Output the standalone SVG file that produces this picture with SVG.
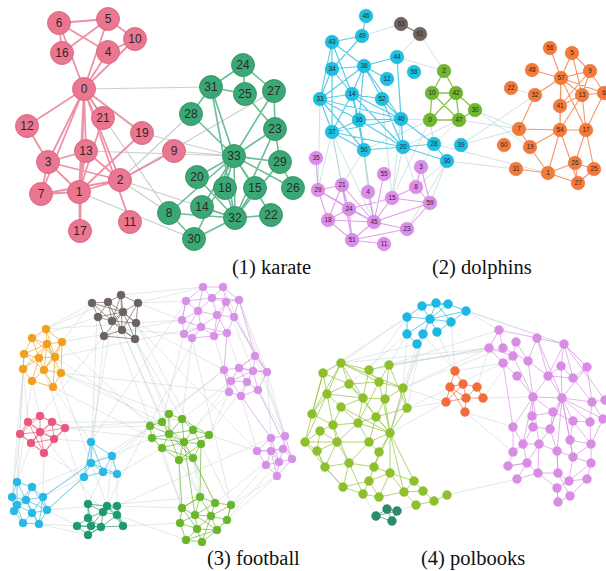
<svg xmlns="http://www.w3.org/2000/svg" width="606" height="571" viewBox="0 0 606 571">
<style>
path{fill:none;stroke-linecap:round}
.lbl{font-family:"Liberation Sans",Arial,sans-serif;text-anchor:middle;fill:#2a2a2a}
.kl{font-size:12px}
.dl{font-size:6.5px}
.cap{font-family:"Liberation Serif","Times New Roman",serif;font-size:20.5px;fill:#111}
.ekp{stroke:#ea7690;stroke-width:1.8;opacity:.8}
.ekg{stroke:#46ad7f;stroke-width:1.6;opacity:.8}
.ekx{stroke:#bfc6c2;stroke-width:1.2;opacity:.85}
.nkp{fill:#ea7690;stroke:#d0627a;stroke-width:.8}
.nkg{fill:#3aa874;stroke:#2e8e60;stroke-width:.8}
.edb{stroke:#30c0e0;stroke-width:1.2;opacity:.8}
.edg{stroke:#74b82a;stroke-width:1.3;opacity:.85}
.edo{stroke:#f47c40;stroke-width:1.1;opacity:.8}
.edp{stroke:#dc8ceb;stroke-width:1.1;opacity:.85}
.edn{stroke:#8a7f78;stroke-width:1.4}
.edx{stroke:#9fc9cf;stroke-width:.8;opacity:.65}
.ndb{fill:#1cc0e3;stroke:#16a6c6;stroke-width:.5}
.ndg{fill:#6db82b;stroke:#5c9e22;stroke-width:.5}
.ndo{fill:#f57a3a;stroke:#dc6a2e;stroke-width:.5}
.ndp{fill:#dc8ceb;stroke:#c67ad6;stroke-width:.5}
.ndn{fill:#6f6560;stroke:#5d544f;stroke-width:.5}
.fe{stroke-width:.9;opacity:.75}
.fx{stroke:#b9c7c7;stroke-width:.65;opacity:.6}
.cB{stroke:#6d625e;fill:#6d625e}
.cO{stroke:#f0a01e;fill:#f0a01e}
.cP{stroke:#e9577e;fill:#e9577e}
.cC{stroke:#27b8e3;fill:#27b8e3}
.cD{stroke:#1d9b6c;fill:#1d9b6c}
.cG{stroke:#6ab62b;fill:#6ab62b}
.cU{stroke:#d690e8;fill:#d690e8}
.cQ{stroke:#1ab8e2;fill:#1ab8e2}
.cR{stroke:#f26c3c;fill:#f26c3c}
.cE{stroke:#8ebf2c;fill:#8ebf2c}
.cK{stroke:#2c8a6a;fill:#2c8a6a}
.cM{stroke:#d88ce4;fill:#d88ce4}
path.cB,path.cO,path.cP,path.cC,path.cD,path.cG,path.cU,path.cQ,path.cR,path.cE,path.cK,path.cM{fill:none}
circle.fn{stroke-width:.4}
</style>
<rect width="606" height="571" fill="#ffffff"/>

<!-- ================= (2) dolphins ================= -->
<g id="dolphins-edges">
<path class="edx" d="M362 36L401 24M397 57L420 34M420 34L444 71M397 57L444 71M401 119L430 120M434 144L459 120M403 147L459 120M434 144L430 120M364 150L430 120M475 110L519 129M475 110L530 147M459 120L519 129M461 145L535 95M461 145L519 129M447 161L516 169M434 144L548 173M447 161L430 203M447 161L416 187M434 144L421 167M403 147L392 198M403 147L416 187M364 150L368 192M364 150L374 222M332 132L318 190M332 132L342 185M332 132L352 240M332 132L374 222M320 99L318 190M359 120L374 222M401 119L392 198M364 150L342 185M447 161L407 229M382 99L392 198M430 120L392 198M511 88L535 95"/>
<path class="edb" d="M366 16L362 36M362 36L332 42M332 42L332 69M332 42L364 66M332 42L352 94M332 42L320 99M362 36L332 69M332 69L364 66M332 69L320 99M332 69L352 94M332 69L332 132M364 66L397 57M364 66L352 94M364 66L382 99M364 66L359 120M364 66L320 99M364 66L401 119M397 57L401 119M397 57L403 147M387 79L364 66M352 94L320 99M352 94L359 120M352 94L382 99M352 94L401 119M352 94L332 132M352 94L403 147M352 94L364 150M320 99L332 132M320 99L359 120M320 99L364 150M320 99L401 119M359 120L332 132M359 120L401 119M359 120L364 150M359 120L403 147M332 132L364 150M332 132L401 119M332 132L403 147M382 99L401 119M382 99L403 147M401 119L403 147M364 150L403 147M403 147L434 144M403 147L447 161M434 144L447 161M401 119L434 144"/>
<path class="edg" d="M444 71L432 93M444 71L456 93M432 93L456 93M432 93L430 120M432 93L459 120M456 93L459 120M456 93L475 110M456 93L430 120M430 120L459 120M459 120L475 110"/>
<path class="edn" d="M401 24L420 34"/>
<path class="edo" d="M550 48L561 78M572 53L590 71M572 53L561 78M572 53L582 95M590 71L561 78M590 71L582 95M590 71L604 93M561 78L582 95M561 78L560 106M561 78L535 95M561 78L560 130M561 78L604 93M561 78L586 130M582 95L604 93M582 95L560 106M582 95L586 130M582 95L560 130M560 106L560 130M560 106L590 71M535 95L519 129M519 129L560 130M519 129L530 147M530 147L560 130M530 147L548 173M560 130L548 173M560 130L586 130M560 130L578 183M586 130L575 163M586 130L594 169M586 130L604 93M575 163L594 169M575 163L578 183M594 169L578 183M548 173L578 183M548 173L516 169M548 173L575 163M532 70L561 78"/>
<path class="edp" d="M316 158L318 190M318 190L342 185M318 190L349 209M318 190L328 220M318 190L374 222M342 185L349 209M342 185L328 220M342 185L352 240M342 185L374 222M349 209L328 220M349 209L374 222M349 209L352 240M349 209L392 198M328 220L374 222M328 220L352 240M374 222L352 240M374 222L392 198M374 222L368 192M374 222L407 229M374 222L430 203M374 222L384 174M392 198L416 187M392 198L430 203M416 187L430 203M416 187L421 167M421 167L430 203M430 203L407 229M352 240L384 244M352 240L407 229"/>
</g>
<g id="dolphins-nodes">
<g id="d46"><circle class="ndb" cx="366" cy="16" r="6.8"/><text class="lbl dl" x="366" y="18.3">46</text></g>
<g id="d53"><circle class="ndn" cx="401" cy="24" r="6.8"/><text class="lbl dl" x="401" y="26.3">53</text></g>
<g id="d61"><circle class="ndn" cx="420" cy="34" r="6.8"/><text class="lbl dl" x="420" y="36.3">61</text></g>
<g id="d49"><circle class="ndb" cx="362" cy="36" r="6.8"/><text class="lbl dl" x="362" y="38.3">49</text></g>
<g id="d43"><circle class="ndb" cx="332" cy="42" r="6.8"/><text class="lbl dl" x="332" y="44.3">43</text></g>
<g id="d44"><circle class="ndb" cx="397" cy="57" r="6.8"/><text class="lbl dl" x="397" y="59.3">44</text></g>
<g id="d38"><circle class="ndb" cx="364" cy="66" r="6.8"/><text class="lbl dl" x="364" y="68.3">38</text></g>
<g id="d34"><circle class="ndb" cx="332" cy="69" r="6.8"/><text class="lbl dl" x="332" y="71.3">34</text></g>
<g id="d12"><circle class="ndb" cx="387" cy="79" r="6.8"/><text class="lbl dl" x="387" y="81.3">12</text></g>
<g id="d58"><circle class="ndb" cx="414" cy="72" r="6.8"/><text class="lbl dl" x="414" y="74.3">58</text></g>
<g id="d2"><circle class="ndg" cx="444" cy="71" r="6.8"/><text class="lbl dl" x="444" y="73.3">2</text></g>
<g id="d14"><circle class="ndb" cx="352" cy="94" r="6.8"/><text class="lbl dl" x="352" y="96.3">14</text></g>
<g id="d33"><circle class="ndb" cx="320" cy="99" r="6.8"/><text class="lbl dl" x="320" y="101.3">33</text></g>
<g id="d52"><circle class="ndb" cx="382" cy="99" r="6.8"/><text class="lbl dl" x="382" y="101.3">52</text></g>
<g id="d10"><circle class="ndg" cx="432" cy="93" r="6.8"/><text class="lbl dl" x="432" y="95.3">10</text></g>
<g id="d42"><circle class="ndg" cx="456" cy="93" r="6.8"/><text class="lbl dl" x="456" y="95.3">42</text></g>
<g id="d30"><circle class="ndg" cx="475" cy="110" r="6.8"/><text class="lbl dl" x="475" y="112.3">30</text></g>
<g id="d16"><circle class="ndb" cx="359" cy="120" r="6.8"/><text class="lbl dl" x="359" y="122.3">16</text></g>
<g id="d40"><circle class="ndb" cx="401" cy="119" r="6.8"/><text class="lbl dl" x="401" y="121.3">40</text></g>
<g id="d0"><circle class="ndg" cx="430" cy="120" r="6.8"/><text class="lbl dl" x="430" y="122.3">0</text></g>
<g id="d47"><circle class="ndg" cx="459" cy="120" r="6.8"/><text class="lbl dl" x="459" y="122.3">47</text></g>
<g id="d37"><circle class="ndb" cx="332" cy="132" r="6.8"/><text class="lbl dl" x="332" y="134.3">37</text></g>
<g id="d50"><circle class="ndb" cx="364" cy="150" r="6.8"/><text class="lbl dl" x="364" y="152.3">50</text></g>
<g id="d20"><circle class="ndb" cx="403" cy="147" r="6.8"/><text class="lbl dl" x="403" y="149.3">20</text></g>
<g id="d28"><circle class="ndb" cx="434" cy="144" r="6.8"/><text class="lbl dl" x="434" y="146.3">28</text></g>
<g id="d39"><circle class="ndb" cx="461" cy="145" r="6.8"/><text class="lbl dl" x="461" y="147.3">39</text></g>
<g id="d36"><circle class="ndb" cx="447" cy="161" r="6.8"/><text class="lbl dl" x="447" y="163.3">36</text></g>
<g id="d35"><circle class="ndp" cx="316" cy="158" r="6.8"/><text class="lbl dl" x="316" y="160.3">35</text></g>
<g id="d3"><circle class="ndp" cx="421" cy="167" r="6.8"/><text class="lbl dl" x="421" y="169.3">3</text></g>
<g id="d55"><circle class="ndp" cx="384" cy="174" r="6.8"/><text class="lbl dl" x="384" y="176.3">55</text></g>
<g id="d21"><circle class="ndp" cx="342" cy="185" r="6.8"/><text class="lbl dl" x="342" y="187.3">21</text></g>
<g id="d29"><circle class="ndp" cx="318" cy="190" r="6.8"/><text class="lbl dl" x="318" y="192.3">29</text></g>
<g id="d8"><circle class="ndp" cx="416" cy="187" r="6.8"/><text class="lbl dl" x="416" y="189.3">8</text></g>
<g id="d4"><circle class="ndp" cx="368" cy="192" r="6.8"/><text class="lbl dl" x="368" y="194.3">4</text></g>
<g id="d15"><circle class="ndp" cx="392" cy="198" r="6.8"/><text class="lbl dl" x="392" y="200.3">15</text></g>
<g id="d59"><circle class="ndp" cx="430" cy="203" r="6.8"/><text class="lbl dl" x="430" y="205.3">59</text></g>
<g id="d24"><circle class="ndp" cx="349" cy="209" r="6.8"/><text class="lbl dl" x="349" y="211.3">24</text></g>
<g id="d18"><circle class="ndp" cx="328" cy="220" r="6.8"/><text class="lbl dl" x="328" y="222.3">18</text></g>
<g id="d45"><circle class="ndp" cx="374" cy="222" r="6.8"/><text class="lbl dl" x="374" y="224.3">45</text></g>
<g id="d23"><circle class="ndp" cx="407" cy="229" r="6.8"/><text class="lbl dl" x="407" y="231.3">23</text></g>
<g id="d51"><circle class="ndp" cx="352" cy="240" r="6.8"/><text class="lbl dl" x="352" y="242.3">51</text></g>
<g id="d11"><circle class="ndp" cx="384" cy="244" r="6.8"/><text class="lbl dl" x="384" y="246.3">11</text></g>
<g id="d56"><circle class="ndo" cx="550" cy="48" r="6.8"/><text class="lbl dl" x="550" y="50.3">56</text></g>
<g id="d5"><circle class="ndo" cx="572" cy="53" r="6.8"/><text class="lbl dl" x="572" y="55.3">5</text></g>
<g id="d48"><circle class="ndo" cx="532" cy="70" r="6.8"/><text class="lbl dl" x="532" y="72.3">48</text></g>
<g id="d9"><circle class="ndo" cx="590" cy="71" r="6.8"/><text class="lbl dl" x="590" y="73.3">9</text></g>
<g id="d57"><circle class="ndo" cx="561" cy="78" r="6.8"/><text class="lbl dl" x="561" y="80.3">57</text></g>
<g id="d22"><circle class="ndo" cx="511" cy="88" r="6.8"/><text class="lbl dl" x="511" y="90.3">22</text></g>
<g id="d32"><circle class="ndo" cx="535" cy="95" r="6.8"/><text class="lbl dl" x="535" y="97.3">32</text></g>
<g id="d13"><circle class="ndo" cx="582" cy="95" r="6.8"/><text class="lbl dl" x="582" y="97.3">13</text></g>
<g id="d6"><circle class="ndo" cx="604" cy="93" r="6.8"/><text class="lbl dl" x="604" y="95.3">6</text></g>
<g id="d41"><circle class="ndo" cx="560" cy="106" r="6.8"/><text class="lbl dl" x="560" y="108.3">41</text></g>
<g id="d7"><circle class="ndo" cx="519" cy="129" r="6.8"/><text class="lbl dl" x="519" y="131.3">7</text></g>
<g id="d54"><circle class="ndo" cx="560" cy="130" r="6.8"/><text class="lbl dl" x="560" y="132.3">54</text></g>
<g id="d17"><circle class="ndo" cx="586" cy="130" r="6.8"/><text class="lbl dl" x="586" y="132.3">17</text></g>
<g id="d60"><circle class="ndo" cx="504" cy="145" r="6.8"/><text class="lbl dl" x="504" y="147.3">60</text></g>
<g id="d19"><circle class="ndo" cx="530" cy="147" r="6.8"/><text class="lbl dl" x="530" y="149.3">19</text></g>
<g id="d26"><circle class="ndo" cx="575" cy="163" r="6.8"/><text class="lbl dl" x="575" y="165.3">26</text></g>
<g id="d25"><circle class="ndo" cx="594" cy="169" r="6.8"/><text class="lbl dl" x="594" y="171.3">25</text></g>
<g id="d31"><circle class="ndo" cx="516" cy="169" r="6.8"/><text class="lbl dl" x="516" y="171.3">31</text></g>
<g id="d1"><circle class="ndo" cx="548" cy="173" r="6.8"/><text class="lbl dl" x="548" y="175.3">1</text></g>
<g id="d27"><circle class="ndo" cx="578" cy="183" r="6.8"/><text class="lbl dl" x="578" y="185.3">27</text></g>
</g>

<!-- ================= (1) karate ================= -->
<g id="karate-edges">
<path class="ekx" d="M84 89L169 213M84 89L211 87M79 192L194 239M120 180L169 213M120 180L274 91M120 180L191 114M120 180L235 218M174 151L234 156M86 151L234 156M142 133L234 156"/>
<path class="ekp" d="M84 89L79 192M84 89L120 180M84 89L48 162M84 89L108 52M84 89L108 19M84 89L59 23M84 89L41 194M84 89L135 39M84 89L130 222M84 89L27 126M84 89L86 151M84 89L80 231M84 89L142 133M84 89L103 118M79 192L120 180M79 192L48 162M79 192L41 194M79 192L86 151M79 192L80 231M79 192L142 133M79 192L103 118M120 180L48 162M120 180L41 194M120 180L174 151M120 180L86 151M48 162L41 194M48 162L27 126M48 162L86 151M108 52L59 23M108 52L135 39M108 19L59 23M108 19L135 39M108 19L62 53M59 23L62 53"/>
<path class="ekg" d="M169 213L194 239M169 213L235 218M169 213L234 156M202 207L235 218M202 207L234 156M255 188L235 218M255 188L234 156M225 188L235 218M225 188L234 156M197 177L235 218M197 177L234 156M271 215L235 218M271 215L234 156M275 129L245 94M275 129L274 91M275 129L280 162M275 129L235 218M275 129L234 156M243 65L245 94M243 65L274 91M243 65L211 87M245 94L211 87M293 188L280 162M293 188L234 156M274 91L234 156M191 114L211 87M191 114L234 156M280 162L235 218M280 162L234 156M194 239L235 218M194 239L234 156M211 87L235 218M211 87L234 156M235 218L234 156"/>
</g>
<g id="karate-nodes">
<g id="k0"><circle class="nkp" cx="84" cy="89" r="11.5"/><text class="lbl kl" x="84" y="93.2">0</text></g>
<g id="k1"><circle class="nkp" cx="79" cy="192" r="11.5"/><text class="lbl kl" x="79" y="196.2">1</text></g>
<g id="k2"><circle class="nkp" cx="120" cy="180" r="11.5"/><text class="lbl kl" x="120" y="184.2">2</text></g>
<g id="k3"><circle class="nkp" cx="48" cy="162" r="11.5"/><text class="lbl kl" x="48" y="166.2">3</text></g>
<g id="k4"><circle class="nkp" cx="108" cy="52" r="11.5"/><text class="lbl kl" x="108" y="56.2">4</text></g>
<g id="k5"><circle class="nkp" cx="108" cy="19" r="11.5"/><text class="lbl kl" x="108" y="23.2">5</text></g>
<g id="k6"><circle class="nkp" cx="59" cy="23" r="11.5"/><text class="lbl kl" x="59" y="27.2">6</text></g>
<g id="k7"><circle class="nkp" cx="41" cy="194" r="11.5"/><text class="lbl kl" x="41" y="198.2">7</text></g>
<g id="k8"><circle class="nkg" cx="169" cy="213" r="11.5"/><text class="lbl kl" x="169" y="217.2">8</text></g>
<g id="k9"><circle class="nkp" cx="174" cy="151" r="11.5"/><text class="lbl kl" x="174" y="155.2">9</text></g>
<g id="k10"><circle class="nkp" cx="135" cy="39" r="11.5"/><text class="lbl kl" x="135" y="43.2">10</text></g>
<g id="k11"><circle class="nkp" cx="130" cy="222" r="11.5"/><text class="lbl kl" x="130" y="226.2">11</text></g>
<g id="k12"><circle class="nkp" cx="27" cy="126" r="11.5"/><text class="lbl kl" x="27" y="130.2">12</text></g>
<g id="k13"><circle class="nkp" cx="86" cy="151" r="11.5"/><text class="lbl kl" x="86" y="155.2">13</text></g>
<g id="k14"><circle class="nkg" cx="202" cy="207" r="11.5"/><text class="lbl kl" x="202" y="211.2">14</text></g>
<g id="k15"><circle class="nkg" cx="255" cy="188" r="11.5"/><text class="lbl kl" x="255" y="192.2">15</text></g>
<g id="k16"><circle class="nkp" cx="62" cy="53" r="11.5"/><text class="lbl kl" x="62" y="57.2">16</text></g>
<g id="k17"><circle class="nkp" cx="80" cy="231" r="11.5"/><text class="lbl kl" x="80" y="235.2">17</text></g>
<g id="k18"><circle class="nkg" cx="225" cy="188" r="11.5"/><text class="lbl kl" x="225" y="192.2">18</text></g>
<g id="k19"><circle class="nkp" cx="142" cy="133" r="11.5"/><text class="lbl kl" x="142" y="137.2">19</text></g>
<g id="k20"><circle class="nkg" cx="197" cy="177" r="11.5"/><text class="lbl kl" x="197" y="181.2">20</text></g>
<g id="k21"><circle class="nkp" cx="103" cy="118" r="11.5"/><text class="lbl kl" x="103" y="122.2">21</text></g>
<g id="k22"><circle class="nkg" cx="271" cy="215" r="11.5"/><text class="lbl kl" x="271" y="219.2">22</text></g>
<g id="k23"><circle class="nkg" cx="275" cy="129" r="11.5"/><text class="lbl kl" x="275" y="133.2">23</text></g>
<g id="k24"><circle class="nkg" cx="243" cy="65" r="11.5"/><text class="lbl kl" x="243" y="69.2">24</text></g>
<g id="k25"><circle class="nkg" cx="245" cy="94" r="11.5"/><text class="lbl kl" x="245" y="98.2">25</text></g>
<g id="k26"><circle class="nkg" cx="293" cy="188" r="11.5"/><text class="lbl kl" x="293" y="192.2">26</text></g>
<g id="k27"><circle class="nkg" cx="274" cy="91" r="11.5"/><text class="lbl kl" x="274" y="95.2">27</text></g>
<g id="k28"><circle class="nkg" cx="191" cy="114" r="11.5"/><text class="lbl kl" x="191" y="118.2">28</text></g>
<g id="k29"><circle class="nkg" cx="280" cy="162" r="11.5"/><text class="lbl kl" x="280" y="166.2">29</text></g>
<g id="k30"><circle class="nkg" cx="194" cy="239" r="11.5"/><text class="lbl kl" x="194" y="243.2">30</text></g>
<g id="k31"><circle class="nkg" cx="211" cy="87" r="11.5"/><text class="lbl kl" x="211" y="91.2">31</text></g>
<g id="k32"><circle class="nkg" cx="235" cy="218" r="11.5"/><text class="lbl kl" x="235" y="222.2">32</text></g>
<g id="k33"><circle class="nkg" cx="234" cy="156" r="11.5"/><text class="lbl kl" x="234" y="160.2">33</text></g>
</g>

<!-- ================= (3) football ================= -->
<g id="football-edges">
<path class="fx" d="M92 303L46 329M92 303L62 342M108 302L46 329M62 342L150 426M61 373L169 414M53 387L152 438M53 387L91 442M61 373L162 422M55 357L169 434M24 354L20 434M23 369L28 422M32 381L40 416M65 428L150 426M65 428L152 438M52 422L162 422M54 439L91 442M44 453L84 477M44 453L43 497M31 443L17 482M20 434L12 497M84 477L43 497M84 477L47 510M91 463L32 487M112 456L107 506M103 472L88 504M117 474L117 506M47 510L77 526M39 524L77 526M39 524L88 535M122 330L162 422M135 339L169 414M135 339L182 419M136 323L224 370M138 303L186 301M138 303L182 320M121 295L203 287M184 334L162 422M192 338L182 419M227 333L239 368M234 317L255 356M214 336L224 370M239 300L267 372M223 287L255 356M231 381L182 419M229 392L193 430M229 392L209 435M224 370L169 414M241 396L257 451M267 372L271 438M258 390L285 436M255 356L285 436M257 451L209 435M266 465L231 505M277 476L227 520M277 476L231 505M279 462L217 530M179 460L200 497M193 458L200 497M162 448L182 508M184 442L215 503M201 444L231 505M179 460L180 523M193 458L211 516M123 526L180 523M117 515L186 540M117 506L182 508M117 474L162 448M112 456L152 438M104 336L40 416M98 317L32 338M32 381L17 482M23 369L12 497M112 321L91 442M104 336L91 463M44 370L88 504M47 344L107 506M182 320L46 329M184 334L122 330M201 327L103 512M123 312L257 451M186 301L91 442M224 370L112 456M271 438L117 506M200 497L47 510M150 426L43 497M239 300L285 436M267 372L285 436M135 339L200 497M122 330L169 434M61 373L229 392M209 435L247 382M193 430L231 381M283 449L215 503M62 342L182 320M97 317L91 463M136 323L193 430M203 287L138 303M24 354L17 482M40 432L103 512M65 428L182 419M226 302L253 371M192 338L231 505M112 321L182 508M55 357L201 327M150 426L103 472"/>
<path class="fe cB" d="M92 303L108 302L121 295L138 303L136 323L135 339L122 330L104 336L98 317L92 303M92 303L123 312L135 339M108 302L112 321L136 323M121 295L123 312L104 336M138 303L123 312L98 317M121 295L112 321L135 339M108 302L122 330L138 303M98 317L112 321L122 330M123 312L112 321M104 336L135 339M92 303L112 321M136 323L123 312M108 302L98 317M121 295L122 330M108 302L123 312L136 323"/>
<path class="fe cO" d="M46 329L62 342L61 373L53 387L32 381L23 369L24 354L32 338L46 329M46 329L47 344L44 370L53 387M32 338L47 344L62 342M24 354L39 358L55 357L62 342M23 369L39 358L44 370L61 373M32 381L44 370L55 357L47 344L39 358L32 338M24 354L44 370M32 381L39 358M53 387L55 357L46 329M61 373L47 344L23 369M24 354L47 344M62 342L44 370M32 338L55 357"/>
<path class="fe cP" d="M40 416L52 422L65 428L54 439L44 453L31 443L20 434L28 422L40 416M40 416L40 432L44 453M28 422L40 432L52 422M20 434L40 432L65 428M31 443L40 432L54 439M28 422L54 439M52 422L31 443M40 416L20 434M40 416L65 428M20 434L44 453M28 422L44 453L65 428M52 422L54 439M31 443L54 439"/>
<path class="fe cC" d="M91 442L112 456L117 474L103 472L84 477L91 463L91 442L103 472L112 456L91 463L117 474M91 442L84 477M91 463L103 472M17 482L32 487L43 497L47 510L39 524L23 523L14 511L12 497L17 482M17 482L26 500L32 513L39 524M32 487L26 500L12 497M43 497L26 500L17 505L14 511M47 510L32 513L23 523M32 487L17 505L32 513L43 497M12 497L17 505L23 523M26 500L47 510M26 500L14 511M32 487L47 510M43 497L39 524M17 482L17 505M26 500L39 524M84 477L47 510M91 463L43 497"/>
<path class="fe cD" d="M88 504L107 506L117 506L123 526L101 527L88 535L77 526L88 518L88 504M88 504L103 512L117 515L123 526M107 506L103 512L88 518L91 526L101 527L117 515L117 506M77 526L91 526L88 535M88 504L91 526M107 506L117 515M103 512L101 527M88 518L101 527M103 512L91 526M77 526L101 527M107 506L123 526M88 535L101 527M103 512L117 506"/>
<path class="fe cU" d="M203 287L223 287L239 300L234 317L227 333L214 336L192 338L184 334L182 320L186 301L203 287M203 287L212 298L226 302L223 287M186 301L212 298L217 315L234 317M186 301L198 311L217 315L227 333M182 320L198 311L212 298M182 320L201 327L214 336M184 334L201 327L217 315L226 302L239 300M192 338L201 327L198 311M203 287L198 311M226 302L234 317M212 298L223 287M214 336L217 315M186 301L182 320M201 327L227 333M198 311L184 334M212 298L239 300M226 302L214 336M255 356L267 372L258 390L241 396L229 392L224 370L239 368L255 356M239 368L253 371L267 372M255 356L253 371L247 382L241 396M224 370L231 381L247 382L258 390M229 392L231 381L239 368L247 382M253 371L258 390M231 381L241 396M239 368L267 372M224 370L229 392M253 371L231 381M255 356L239 368M271 438L285 436L292 459L277 476L266 465L257 451L271 438M271 438L271 451L283 449L285 436M257 451L271 451L279 462L292 459M266 465L271 451M266 465L279 462L277 476M283 449L279 462M283 449L292 459M257 451L283 449M271 438L279 462M271 451L277 476M234 317L267 372M239 300L255 356M227 333L224 370M241 396L271 438M258 390L292 459"/>
<path class="fe cG" d="M169 414L182 419L193 430L209 435L201 444L193 458L179 460L162 448L152 438L150 426L162 422L169 414M169 414L169 434L184 442L201 444M162 422L169 434L193 430M150 426L169 434L162 448M182 419L184 442L179 460M152 438L169 434L179 460M193 430L184 442L193 458M209 435L184 442L162 448M182 419L169 434M193 430L201 444M169 434L193 458M184 442L162 422M182 419L209 435M152 438L184 442M179 460L201 444M162 448L193 458M200 497L215 503L231 505L227 520L217 530L202 542L186 540L180 523L182 508L200 497M200 497L195 515L197 529L202 542M182 508L195 515L211 516L227 520M215 503L211 516L217 530M180 523L195 515L215 503M180 523L197 529L217 530M186 540L197 529L211 516L231 505M200 497L211 516M182 508L197 529M195 515L217 530M211 516L202 542M186 540L217 530M227 520L231 505M200 497L182 508M179 460L182 508M193 458L215 503M201 444L200 497M184 442L195 515"/>
</g>
<g id="football-nodes">
<g id="fb1"><circle class="fn cB" cx="121" cy="295" r="4"/></g><g id="fb2"><circle class="fn cB" cx="92" cy="303" r="4"/></g><g id="fb3"><circle class="fn cB" cx="108" cy="302" r="4"/></g><g id="fb4"><circle class="fn cB" cx="138" cy="303" r="4"/></g><g id="fb5"><circle class="fn cB" cx="98" cy="317" r="4"/></g><g id="fb6"><circle class="fn cB" cx="123" cy="312" r="4"/></g><g id="fb7"><circle class="fn cB" cx="112" cy="321" r="4"/></g><g id="fb8"><circle class="fn cB" cx="136" cy="323" r="4"/></g><g id="fb9"><circle class="fn cB" cx="122" cy="330" r="4"/></g><g id="fb10"><circle class="fn cB" cx="104" cy="336" r="4"/></g><g id="fb11"><circle class="fn cB" cx="135" cy="339" r="4"/></g>
<g id="fo1"><circle class="fn cO" cx="46" cy="329" r="4"/></g><g id="fo2"><circle class="fn cO" cx="32" cy="338" r="4"/></g><g id="fo3"><circle class="fn cO" cx="62" cy="342" r="4"/></g><g id="fo4"><circle class="fn cO" cx="47" cy="344" r="4"/></g><g id="fo5"><circle class="fn cO" cx="24" cy="354" r="4"/></g><g id="fo6"><circle class="fn cO" cx="39" cy="358" r="4"/></g><g id="fo7"><circle class="fn cO" cx="55" cy="357" r="4"/></g><g id="fo8"><circle class="fn cO" cx="23" cy="369" r="4"/></g><g id="fo9"><circle class="fn cO" cx="44" cy="370" r="4"/></g><g id="fo10"><circle class="fn cO" cx="61" cy="373" r="4"/></g><g id="fo11"><circle class="fn cO" cx="32" cy="381" r="4"/></g><g id="fo12"><circle class="fn cO" cx="53" cy="387" r="4"/></g>
<g id="fp1"><circle class="fn cP" cx="40" cy="416" r="4"/></g><g id="fp2"><circle class="fn cP" cx="28" cy="422" r="4"/></g><g id="fp3"><circle class="fn cP" cx="52" cy="422" r="4"/></g><g id="fp4"><circle class="fn cP" cx="65" cy="428" r="4"/></g><g id="fp5"><circle class="fn cP" cx="20" cy="434" r="4"/></g><g id="fp6"><circle class="fn cP" cx="40" cy="432" r="4"/></g><g id="fp7"><circle class="fn cP" cx="54" cy="439" r="4"/></g><g id="fp8"><circle class="fn cP" cx="31" cy="443" r="4"/></g><g id="fp9"><circle class="fn cP" cx="44" cy="453" r="4"/></g>
<g id="fc1"><circle class="fn cC" cx="91" cy="442" r="4"/></g><g id="fc2"><circle class="fn cC" cx="112" cy="456" r="4"/></g><g id="fc3"><circle class="fn cC" cx="91" cy="463" r="4"/></g><g id="fc4"><circle class="fn cC" cx="103" cy="472" r="4"/></g><g id="fc5"><circle class="fn cC" cx="117" cy="474" r="4"/></g><g id="fc6"><circle class="fn cC" cx="84" cy="477" r="4"/></g>
<g id="fl1"><circle class="fn cC" cx="17" cy="482" r="4"/></g><g id="fl2"><circle class="fn cC" cx="32" cy="487" r="4"/></g><g id="fl3"><circle class="fn cC" cx="12" cy="497" r="4"/></g><g id="fl4"><circle class="fn cC" cx="43" cy="497" r="4"/></g><g id="fl5"><circle class="fn cC" cx="26" cy="500" r="4"/></g><g id="fl6"><circle class="fn cC" cx="17" cy="505" r="4"/></g><g id="fl7"><circle class="fn cC" cx="32" cy="513" r="4"/></g><g id="fl8"><circle class="fn cC" cx="14" cy="511" r="4"/></g><g id="fl9"><circle class="fn cC" cx="47" cy="510" r="4"/></g><g id="fl10"><circle class="fn cC" cx="23" cy="523" r="4"/></g><g id="fl11"><circle class="fn cC" cx="39" cy="524" r="4"/></g>
<g id="fd1"><circle class="fn cD" cx="88" cy="504" r="4"/></g><g id="fd2"><circle class="fn cD" cx="107" cy="506" r="4"/></g><g id="fd3"><circle class="fn cD" cx="117" cy="506" r="4"/></g><g id="fd4"><circle class="fn cD" cx="88" cy="518" r="4"/></g><g id="fd5"><circle class="fn cD" cx="103" cy="512" r="4"/></g><g id="fd6"><circle class="fn cD" cx="117" cy="515" r="4"/></g><g id="fd7"><circle class="fn cD" cx="77" cy="526" r="4"/></g><g id="fd8"><circle class="fn cD" cx="91" cy="526" r="4"/></g><g id="fd9"><circle class="fn cD" cx="101" cy="527" r="4"/></g><g id="fd10"><circle class="fn cD" cx="123" cy="526" r="4"/></g><g id="fd11"><circle class="fn cD" cx="88" cy="535" r="4"/></g>
<g id="fu1"><circle class="fn cU" cx="203" cy="287" r="4"/></g><g id="fu2"><circle class="fn cU" cx="223" cy="287" r="4"/></g><g id="fu3"><circle class="fn cU" cx="186" cy="301" r="4"/></g><g id="fu4"><circle class="fn cU" cx="212" cy="298" r="4"/></g><g id="fu5"><circle class="fn cU" cx="226" cy="302" r="4"/></g><g id="fu6"><circle class="fn cU" cx="239" cy="300" r="4"/></g><g id="fu7"><circle class="fn cU" cx="198" cy="311" r="4"/></g><g id="fu8"><circle class="fn cU" cx="217" cy="315" r="4"/></g><g id="fu9"><circle class="fn cU" cx="234" cy="317" r="4"/></g><g id="fu10"><circle class="fn cU" cx="182" cy="320" r="4"/></g><g id="fu11"><circle class="fn cU" cx="201" cy="327" r="4"/></g><g id="fu12"><circle class="fn cU" cx="184" cy="334" r="4"/></g><g id="fu13"><circle class="fn cU" cx="192" cy="338" r="4"/></g><g id="fu14"><circle class="fn cU" cx="214" cy="336" r="4"/></g><g id="fu15"><circle class="fn cU" cx="227" cy="333" r="4"/></g>
<g id="fv1"><circle class="fn cU" cx="255" cy="356" r="4"/></g><g id="fv2"><circle class="fn cU" cx="239" cy="368" r="4"/></g><g id="fv3"><circle class="fn cU" cx="253" cy="371" r="4"/></g><g id="fv4"><circle class="fn cU" cx="267" cy="372" r="4"/></g><g id="fv5"><circle class="fn cU" cx="224" cy="370" r="4"/></g><g id="fv6"><circle class="fn cU" cx="231" cy="381" r="4"/></g><g id="fv7"><circle class="fn cU" cx="247" cy="382" r="4"/></g><g id="fv8"><circle class="fn cU" cx="258" cy="390" r="4"/></g><g id="fv9"><circle class="fn cU" cx="229" cy="392" r="4"/></g><g id="fv10"><circle class="fn cU" cx="241" cy="396" r="4"/></g>
<g id="fw1"><circle class="fn cU" cx="271" cy="438" r="4"/></g><g id="fw2"><circle class="fn cU" cx="285" cy="436" r="4"/></g><g id="fw3"><circle class="fn cU" cx="257" cy="451" r="4"/></g><g id="fw4"><circle class="fn cU" cx="271" cy="451" r="4"/></g><g id="fw5"><circle class="fn cU" cx="283" cy="449" r="4"/></g><g id="fw6"><circle class="fn cU" cx="279" cy="462" r="4"/></g><g id="fw7"><circle class="fn cU" cx="292" cy="459" r="4"/></g><g id="fw8"><circle class="fn cU" cx="266" cy="465" r="4"/></g><g id="fw9"><circle class="fn cU" cx="277" cy="476" r="4"/></g>
<g id="fg1"><circle class="fn cG" cx="169" cy="414" r="4"/></g><g id="fg2"><circle class="fn cG" cx="182" cy="419" r="4"/></g><g id="fg3"><circle class="fn cG" cx="162" cy="422" r="4"/></g><g id="fg4"><circle class="fn cG" cx="150" cy="426" r="4"/></g><g id="fg5"><circle class="fn cG" cx="193" cy="430" r="4"/></g><g id="fg6"><circle class="fn cG" cx="169" cy="434" r="4"/></g><g id="fg7"><circle class="fn cG" cx="209" cy="435" r="4"/></g><g id="fg8"><circle class="fn cG" cx="152" cy="438" r="4"/></g><g id="fg9"><circle class="fn cG" cx="184" cy="442" r="4"/></g><g id="fg10"><circle class="fn cG" cx="201" cy="444" r="4"/></g><g id="fg11"><circle class="fn cG" cx="162" cy="448" r="4"/></g><g id="fg12"><circle class="fn cG" cx="179" cy="460" r="4"/></g><g id="fg13"><circle class="fn cG" cx="193" cy="458" r="4"/></g>
<g id="fh1"><circle class="fn cG" cx="200" cy="497" r="4"/></g><g id="fh2"><circle class="fn cG" cx="182" cy="508" r="4"/></g><g id="fh3"><circle class="fn cG" cx="215" cy="503" r="4"/></g><g id="fh4"><circle class="fn cG" cx="231" cy="505" r="4"/></g><g id="fh5"><circle class="fn cG" cx="195" cy="515" r="4"/></g><g id="fh6"><circle class="fn cG" cx="211" cy="516" r="4"/></g><g id="fh7"><circle class="fn cG" cx="227" cy="520" r="4"/></g><g id="fh8"><circle class="fn cG" cx="180" cy="523" r="4"/></g><g id="fh9"><circle class="fn cG" cx="197" cy="529" r="4"/></g><g id="fh10"><circle class="fn cG" cx="217" cy="530" r="4"/></g><g id="fh11"><circle class="fn cG" cx="186" cy="540" r="4"/></g><g id="fh12"><circle class="fn cG" cx="202" cy="542" r="4"/></g>
</g>

<!-- ================= (4) polbooks ================= -->
<g id="polbooks-edges">
<path class="fx" d="M407 317L341 363M407 317L369 370M407 334L389 365M417 344L390 433M423 334L390 433M423 334L455 371M437 332L455 371M451 322L455 371M466 311L564 344M466 311L499 330M448 304L564 344M446 402L407 408M446 402L403 388M483 398L533 397M483 398L513 356M477 387L489 348M465 412L513 427M465 412L513 452M447 495L517 479M389 365L489 348M369 370L489 348M403 388L503 348M407 408L503 363M341 363L489 348M389 365L499 330M423 334L407 408M407 334L403 388M430 319L390 433M379 497L387 509M416 505L397 511M363 494L376 516M407 317L323 373M417 344L341 363M407 334L349 384M389 365L503 348M403 388L489 348M455 371L503 363M446 402L390 433"/>
<path class="fe cQ" d="M407 317L422 306L436 303L448 304L466 311L451 322L430 319L407 317M422 306L430 319L436 303M448 304L430 319L437 332M422 306L448 304M430 319L423 334L417 344L407 334L407 317M451 322L437 332M430 319L407 334M436 303L451 322M430 319L466 311"/>
<path class="fe cR" d="M455 371L450 387L446 402L466 398L483 398L477 387L463 384L450 387L466 398L463 384L455 371M477 387L466 398M450 387L465 412M466 398L465 412M446 402L463 384"/>
<path class="fe cE" d="M341 363L323 373L312 414L305 442L317 451L325 467L343 487L363 494L379 497L404 492L423 491L434 501L447 495M341 363L369 370L389 365M341 363L349 384L363 398L385 399L403 388M341 363L327 394L341 407L358 423L376 417L390 433M341 363L379 382L390 433M341 363L403 388M341 363L363 398M323 373L349 384L379 382L389 365M323 373L327 394L312 414M369 370L379 382L403 388L407 408L390 433M369 370L363 398L341 407M389 365L385 399L390 433M349 384L327 394M327 394L333 425L320 431L305 442M327 394L363 398M363 398L358 423L337 442M385 399L376 417L369 442M407 408L376 417M341 407L333 425L337 442L349 463M312 414L333 425L358 423M320 431L337 442L369 442L379 452M305 442L337 442M317 451L337 442M349 463L369 442L390 433M379 452L390 433L390 473M349 463L325 467L317 451L320 431M349 463L374 467L379 452M390 433L374 467L369 481M390 433L414 481M390 433L404 492M374 467L390 473L414 481M349 463L343 487L369 481L379 497M325 467L343 487M363 494L369 481L390 473M379 497L390 473L404 492L414 481L423 491M404 492L416 505L434 501M349 463L363 494M337 442L325 467M358 423L369 442M403 388L390 433M363 398L376 417M379 382L358 423M333 425L349 463M305 442L325 467M327 394L305 442M390 433L349 384M390 433L341 407M390 433L358 423M323 373L312 414M341 363L312 414M389 365L407 408"/>
<path class="fe cK" d="M387 509L397 511L392 521L376 516L387 509L392 521M376 516L397 511"/>
<path class="fe cM" d="M499 330L537 338L564 344L587 367L592 402L603 419L591 444L591 463L587 479L570 496L558 502L557 488L538 473L527 463L508 466L513 452L513 427L503 363L489 348L499 330M537 338L562 398M564 344L561 366L562 398L573 421L591 444M564 344L587 367L562 398M564 344L573 378L592 402M564 344L548 376L533 397M537 338L548 376L562 398M503 348L528 361L548 376M489 348L513 356L533 397M516 342L528 361M503 363L517 376L533 397L562 398L592 402M533 397L553 412L573 421L590 422M533 397L532 416L533 427L550 429L562 398M562 398L603 419M562 398L570 440L591 444M562 398L557 451L573 457L591 463M562 398L553 412M562 398L550 429L539 444L523 444L513 427M533 397L523 444M533 397L513 427M533 397L539 444L538 473M570 440L573 457L569 481L587 479M557 451L558 473L569 481L557 488M527 463L539 444L557 451L558 473M513 452L523 444L527 463M538 473L558 473L570 496M517 479L538 473M517 479L527 463M508 466L527 463M591 444L573 457M592 402L590 422L591 444M573 378L561 366M548 376L573 378M587 367L573 378M592 402L605 400M564 344L605 400M573 421L570 440M553 412L550 429M532 416L553 412M550 429L557 451M533 427L523 444M591 463L569 481M557 488L558 502M503 348L499 330M513 356L503 363M516 342L513 356M537 338L528 361M561 366L548 376M562 398L590 422M562 398L573 457M528 361L533 397"/>
</g>
<g id="polbooks-nodes">
<g id="pq1"><circle class="fn cQ" cx="422" cy="306" r="4.5"/></g><g id="pq2"><circle class="fn cQ" cx="436" cy="303" r="4.5"/></g><g id="pq3"><circle class="fn cQ" cx="448" cy="304" r="4.5"/></g><g id="pq4"><circle class="fn cQ" cx="466" cy="311" r="4.5"/></g><g id="pq5"><circle class="fn cQ" cx="407" cy="317" r="4.5"/></g><g id="pq6"><circle class="fn cQ" cx="430" cy="319" r="4.5"/></g><g id="pq7"><circle class="fn cQ" cx="451" cy="322" r="4.5"/></g><g id="pq8"><circle class="fn cQ" cx="407" cy="334" r="4.5"/></g><g id="pq9"><circle class="fn cQ" cx="423" cy="334" r="4.5"/></g><g id="pq10"><circle class="fn cQ" cx="437" cy="332" r="4.5"/></g><g id="pq11"><circle class="fn cQ" cx="417" cy="344" r="4.5"/></g>
<g id="pr1"><circle class="fn cR" cx="455" cy="371" r="4.5"/></g><g id="pr2"><circle class="fn cR" cx="450" cy="387" r="4.5"/></g><g id="pr3"><circle class="fn cR" cx="463" cy="384" r="4.5"/></g><g id="pr4"><circle class="fn cR" cx="477" cy="387" r="4.5"/></g><g id="pr5"><circle class="fn cR" cx="466" cy="398" r="4.5"/></g><g id="pr6"><circle class="fn cR" cx="483" cy="398" r="4.5"/></g><g id="pr7"><circle class="fn cR" cx="446" cy="402" r="4.5"/></g><g id="pr8"><circle class="fn cR" cx="465" cy="412" r="4.5"/></g>
<g id="pe1"><circle class="fn cE" cx="341" cy="363" r="4.5"/></g><g id="pe2"><circle class="fn cE" cx="323" cy="373" r="4.5"/></g><g id="pe3"><circle class="fn cE" cx="369" cy="370" r="4.5"/></g><g id="pe4"><circle class="fn cE" cx="389" cy="365" r="4.5"/></g><g id="pe5"><circle class="fn cE" cx="349" cy="384" r="4.5"/></g><g id="pe6"><circle class="fn cE" cx="379" cy="382" r="4.5"/></g><g id="pe7"><circle class="fn cE" cx="403" cy="388" r="4.5"/></g><g id="pe8"><circle class="fn cE" cx="327" cy="394" r="4.5"/></g><g id="pe9"><circle class="fn cE" cx="363" cy="398" r="4.5"/></g><g id="pe10"><circle class="fn cE" cx="385" cy="399" r="4.5"/></g><g id="pe11"><circle class="fn cE" cx="341" cy="407" r="4.5"/></g><g id="pe12"><circle class="fn cE" cx="407" cy="408" r="4.5"/></g><g id="pe13"><circle class="fn cE" cx="312" cy="414" r="4.5"/></g><g id="pe14"><circle class="fn cE" cx="333" cy="425" r="4.5"/></g><g id="pe15"><circle class="fn cE" cx="358" cy="423" r="4.5"/></g><g id="pe16"><circle class="fn cE" cx="376" cy="417" r="4.5"/></g><g id="pe17"><circle class="fn cE" cx="320" cy="431" r="4.5"/></g><g id="pe18"><circle class="fn cE" cx="390" cy="433" r="4.5"/></g><g id="pe19"><circle class="fn cE" cx="305" cy="442" r="4.5"/></g><g id="pe20"><circle class="fn cE" cx="337" cy="442" r="4.5"/></g><g id="pe21"><circle class="fn cE" cx="369" cy="442" r="4.5"/></g><g id="pe22"><circle class="fn cE" cx="317" cy="451" r="4.5"/></g><g id="pe23"><circle class="fn cE" cx="379" cy="452" r="4.5"/></g><g id="pe24"><circle class="fn cE" cx="349" cy="463" r="4.5"/></g><g id="pe25"><circle class="fn cE" cx="325" cy="467" r="4.5"/></g><g id="pe26"><circle class="fn cE" cx="374" cy="467" r="4.5"/></g><g id="pe27"><circle class="fn cE" cx="390" cy="473" r="4.5"/></g><g id="pe28"><circle class="fn cE" cx="369" cy="481" r="4.5"/></g><g id="pe29"><circle class="fn cE" cx="414" cy="481" r="4.5"/></g><g id="pe30"><circle class="fn cE" cx="343" cy="487" r="4.5"/></g><g id="pe31"><circle class="fn cE" cx="363" cy="494" r="4.5"/></g><g id="pe32"><circle class="fn cE" cx="379" cy="497" r="4.5"/></g><g id="pe33"><circle class="fn cE" cx="404" cy="492" r="4.5"/></g><g id="pe34"><circle class="fn cE" cx="423" cy="491" r="4.5"/></g><g id="pe35"><circle class="fn cE" cx="416" cy="505" r="4.5"/></g><g id="pe36"><circle class="fn cE" cx="434" cy="501" r="4.5"/></g><g id="pe37"><circle class="fn cE" cx="447" cy="495" r="4.5"/></g>
<g id="pk1"><circle class="fn cK" cx="387" cy="509" r="4.5"/></g><g id="pk2"><circle class="fn cK" cx="397" cy="511" r="4.5"/></g><g id="pk3"><circle class="fn cK" cx="376" cy="516" r="4.5"/></g><g id="pk4"><circle class="fn cK" cx="392" cy="521" r="4.5"/></g>
<g id="pm1"><circle class="fn cM" cx="499" cy="330" r="4.5"/></g><g id="pm2"><circle class="fn cM" cx="537" cy="338" r="4.5"/></g><g id="pm3"><circle class="fn cM" cx="516" cy="342" r="4.5"/></g><g id="pm4"><circle class="fn cM" cx="564" cy="344" r="4.5"/></g><g id="pm5"><circle class="fn cM" cx="489" cy="348" r="4.5"/></g><g id="pm6"><circle class="fn cM" cx="503" cy="348" r="4.5"/></g><g id="pm7"><circle class="fn cM" cx="513" cy="356" r="4.5"/></g><g id="pm8"><circle class="fn cM" cx="528" cy="361" r="4.5"/></g><g id="pm9"><circle class="fn cM" cx="503" cy="363" r="4.5"/></g><g id="pm10"><circle class="fn cM" cx="587" cy="367" r="4.5"/></g><g id="pm11"><circle class="fn cM" cx="561" cy="366" r="4.5"/></g><g id="pm12"><circle class="fn cM" cx="573" cy="378" r="4.5"/></g><g id="pm13"><circle class="fn cM" cx="517" cy="376" r="4.5"/></g><g id="pm14"><circle class="fn cM" cx="548" cy="376" r="4.5"/></g><g id="pm15"><circle class="fn cM" cx="533" cy="397" r="4.5"/></g><g id="pm16"><circle class="fn cM" cx="562" cy="398" r="4.5"/></g><g id="pm17"><circle class="fn cM" cx="592" cy="402" r="4.5"/></g><g id="pm18"><circle class="fn cM" cx="553" cy="412" r="4.5"/></g><g id="pm19"><circle class="fn cM" cx="573" cy="421" r="4.5"/></g><g id="pm20"><circle class="fn cM" cx="590" cy="422" r="4.5"/></g><g id="pm21"><circle class="fn cM" cx="603" cy="419" r="4.5"/></g><g id="pm22"><circle class="fn cM" cx="532" cy="416" r="4.5"/></g><g id="pm23"><circle class="fn cM" cx="533" cy="427" r="4.5"/></g><g id="pm24"><circle class="fn cM" cx="513" cy="427" r="4.5"/></g><g id="pm25"><circle class="fn cM" cx="550" cy="429" r="4.5"/></g><g id="pm26"><circle class="fn cM" cx="523" cy="444" r="4.5"/></g><g id="pm27"><circle class="fn cM" cx="539" cy="444" r="4.5"/></g><g id="pm28"><circle class="fn cM" cx="570" cy="440" r="4.5"/></g><g id="pm29"><circle class="fn cM" cx="591" cy="444" r="4.5"/></g><g id="pm30"><circle class="fn cM" cx="557" cy="451" r="4.5"/></g><g id="pm31"><circle class="fn cM" cx="513" cy="452" r="4.5"/></g><g id="pm32"><circle class="fn cM" cx="573" cy="457" r="4.5"/></g><g id="pm33"><circle class="fn cM" cx="591" cy="463" r="4.5"/></g><g id="pm34"><circle class="fn cM" cx="527" cy="463" r="4.5"/></g><g id="pm35"><circle class="fn cM" cx="508" cy="466" r="4.5"/></g><g id="pm36"><circle class="fn cM" cx="538" cy="473" r="4.5"/></g><g id="pm37"><circle class="fn cM" cx="558" cy="473" r="4.5"/></g><g id="pm38"><circle class="fn cM" cx="569" cy="481" r="4.5"/></g><g id="pm39"><circle class="fn cM" cx="587" cy="479" r="4.5"/></g><g id="pm40"><circle class="fn cM" cx="517" cy="479" r="4.5"/></g><g id="pm41"><circle class="fn cM" cx="557" cy="488" r="4.5"/></g><g id="pm42"><circle class="fn cM" cx="570" cy="496" r="4.5"/></g><g id="pm43"><circle class="fn cM" cx="558" cy="502" r="4.5"/></g><g id="pm44"><circle class="fn cM" cx="605" cy="400" r="4.5"/></g>
</g>

<g id="captions">
<text class="cap" x="232" y="274">(1) karate</text>
<text class="cap" x="432" y="274">(2) dolphins</text>
<text class="cap" x="207" y="565">(3) football</text>
<text class="cap" x="421" y="565">(4) polbooks</text>
</g>
</svg>
